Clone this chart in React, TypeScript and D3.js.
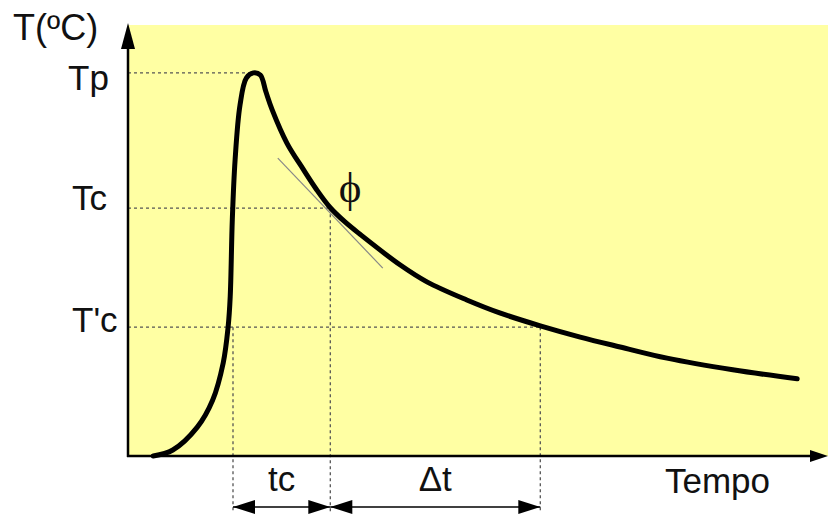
import React from 'react';
import * as d3 from 'd3';

// curva de temperatura (tempo e temperatura em unidades relativas 0-100)
const times = [3.6, 6.4, 9.9, 12.1, 13.6, 14.3, 14.6, 14.9, 15.3, 16.0, 16.9, 17.9, 18.9, 19.7, 20.6, 22.7, 25.0, 26.9, 28.9, 31.0, 33.1, 38.9, 42.7, 48.4, 53.1, 58.9, 64.6, 70.3, 77.0, 86.4, 95.6];
const temps = [0, 1.4, 6.7, 13.0, 21.6, 29.9, 36.9, 54.8, 68.7, 81.4, 87.7, 88.9, 88.4, 84.5, 80.3, 72.6, 66.6, 61.9, 57.6, 54.3, 51.5, 44.3, 40.4, 36.2, 33.2, 30.2, 27.6, 25.3, 22.7, 20.0, 17.9];

// reta tangente no ponto Tc
const tangentTimes = [21.4, 36.4];
const tangentTemps = [69.1, 43.6];

// níveis marcados no eixo vertical
const levelLabels = ['Tp', 'Tc', "T'c"];
const levelTemps = [88.9, 57.5, 29.9];
const levelTimes = [17.4, 28.9, 58.9];

// instantes marcados no eixo do tempo
const markTimes = [15.0, 28.9, 58.9];
const markTemps = [29.9, 57.5, 29.9];
const spanLabels = ['tc', '\u0394t'];

const W = 828;
const H = 514;
const font = 'Liberation Sans, Arial, sans-serif';

export default function App() {
  const x = d3.scaleLinear().domain([0, 100]).range([128, 828]);
  const y = d3.scaleLinear().domain([0, 100]).range([456, 25]);

  const line = d3.line<number>()
    .x((d, i) => x(times[i]))
    .y((d) => y(d))
    .curve(d3.curveCatmullRom.alpha(0.5));

  const arrowY = 507;
  const head = (tip: number, dir: number) =>
    `M${tip},${arrowY} L${tip - dir * 22},${arrowY - 7} L${tip - dir * 22},${arrowY + 7} Z`;

  const spans = [
    [markTimes[0], markTimes[1]],
    [markTimes[1], markTimes[2]],
  ];

  return (
    <svg width={W} height={H} style={{ position: 'absolute', left: 0, top: 0, background: '#fff' }}>
      <rect x={x(0)} y={y(100)} width={x(100) - x(0)} height={y(0) - y(100)} fill="#ffffa3" />

      {/* linhas pontilhadas horizontais */}
      {levelTemps.map((t, i) => (
        <line key={'h' + i} x1={x(0)} x2={x(levelTimes[i])} y1={y(t)} y2={y(t)}
          stroke="#555" strokeWidth={1.3} strokeDasharray="3,3" />
      ))}
      {/* linhas pontilhadas verticais */}
      {markTimes.map((t, i) => (
        <line key={'v' + i} x1={x(t)} x2={x(t)} y1={y(markTemps[i])} y2={H - 1}
          stroke="#555" strokeWidth={1.3} strokeDasharray="3,3" />
      ))}

      {/* tangente */}
      <line x1={x(tangentTimes[0])} y1={y(tangentTemps[0])} x2={x(tangentTimes[1])} y2={y(tangentTemps[1])}
        stroke="#888" strokeWidth={1.2} />

      <path d={line(temps) || ''} fill="none" stroke="#000" strokeWidth={5} strokeLinecap="round" strokeLinejoin="round" />

      {/* eixos */}
      <line x1={x(0)} x2={x(0)} y1={y(0) + 1} y2={y(100) + 20} stroke="#000" strokeWidth={2.5} />
      <path d={`M${x(0)},${y(100) - 2} L${x(0) - 7},${y(100) + 24} L${x(0) + 7},${y(100) + 24} Z`} fill="#000" />
      <line x1={x(0) - 1} x2={x(100) - 16} y1={y(0)} y2={y(0)} stroke="#000" strokeWidth={2.5} />
      <path d={`M${W},${y(0)} L${W - 18},${y(0) - 6} L${W - 18},${y(0) + 6} Z`} fill="#000" />

      {/* setas de intervalo */}
      {spans.map(([a, b], i) => (
        <g key={'s' + i}>
          <line x1={x(a)} x2={x(b)} y1={arrowY} y2={arrowY} stroke="#000" strokeWidth={1.5} />
          <path d={head(x(a), -1)} fill="#000" />
          <path d={head(x(b), 1)} fill="#000" />
          <text x={(x(a) + x(b)) / 2} y={491} textAnchor="middle"
            fontFamily={font} fontSize={35} fill="#111">{spanLabels[i]}</text>
        </g>
      ))}

      {/* rótulos */}
      <text x={13} y={40} fontFamily={font} fontSize={36} fill="#111">T(ºC)</text>
      {levelLabels.map((l, i) => (
        <text key={'l' + i} x={i === 0 ? 68 : 72} y={[90, 210, 332][i]} fontFamily={font} fontSize={35} fill="#111">{l}</text>
      ))}
      <text x={665} y={493} fontFamily={font} fontSize={35} fill="#111">Tempo</text>
      <text x={350} y={202} textAnchor="middle" fontFamily="Liberation Serif, DejaVu Serif, serif" fontSize={43} fill="#111">{'\u03D5'}</text>
    </svg>
  );
}
